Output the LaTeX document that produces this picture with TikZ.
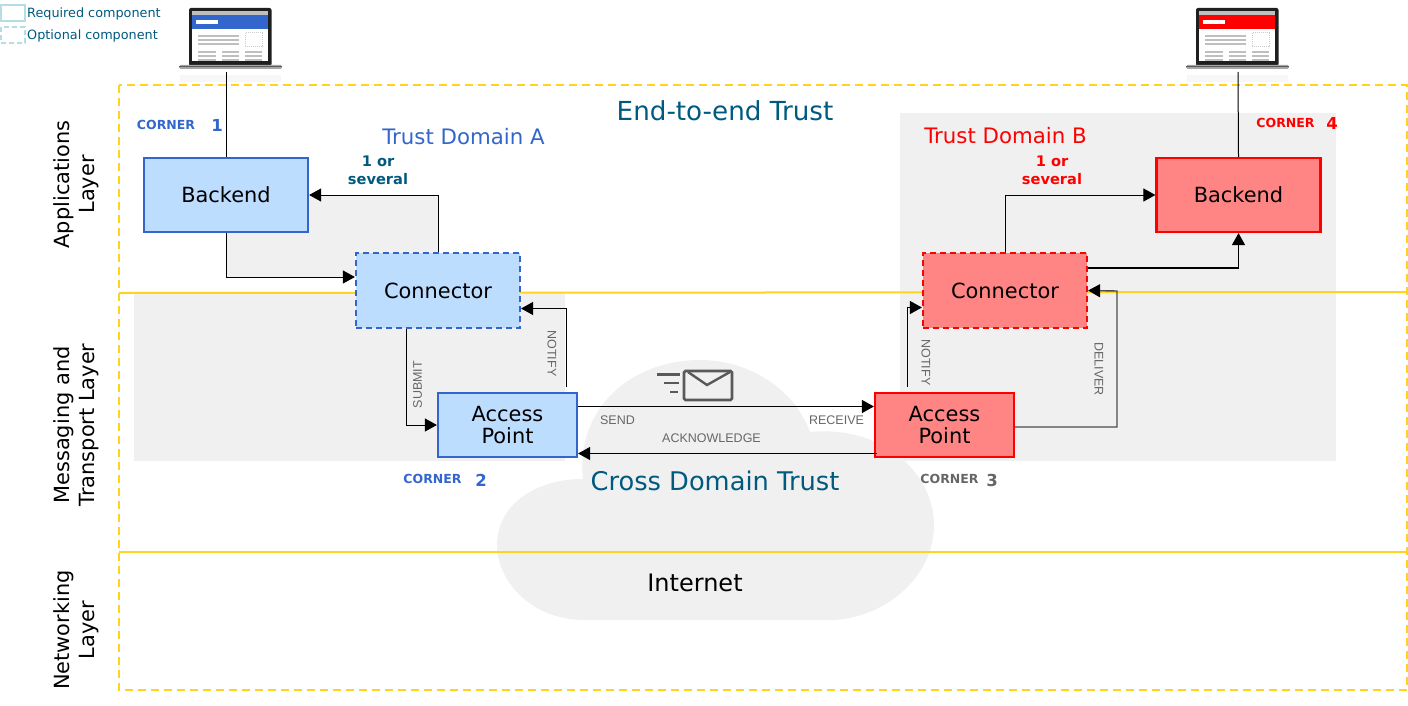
\documentclass[tikz,border=0pt]{standalone}
\usepackage{fontspec}
\setmainfont{DejaVu Sans}
\newfontfamily\labfont{Liberation Sans}
\usetikzlibrary{arrows.meta,calc}
\definecolor{blueline}{HTML}{3366CC}
\definecolor{bluefill}{HTML}{BDDDFF}
\definecolor{redline}{HTML}{FF0000}
\definecolor{redfill}{HTML}{FF8585}
\definecolor{goldline}{HTML}{FFD320}
\definecolor{tealtext}{HTML}{005A80}
\definecolor{softgray}{HTML}{F0F0F0}
\definecolor{legendline}{HTML}{B5DDE3}
\definecolor{midgray}{HTML}{666666}
\definecolor{envgray}{HTML}{595959}
\newcommand{\fsz}[1]{\fontsize{#1}{#1}\selectfont}
\newcommand{\laptopicon}[1]{%
  \fill[black!3] (180,75) rectangle (281,82);
  \fill[black!88,rounded corners=2pt] (189,8) rectangle (271.5,66);
  \fill[black!35,rounded corners=1.5pt] (179,65) rectangle (282,69);
  \fill[black!65] (179,66.5) rectangle (282,67.5);
  \fill[white] (192,11) rectangle (268,61);
  \fill[black!25] (192,11) rectangle (268,15);
  \fill[#1] (192,15) rectangle (268,29);
  \fill[white] (196,20) rectangle (218,24);
  \foreach \yy in {36,40,44} \draw[black!25,line width=1.6pt] (198,\yy) -- (239,\yy);
  \foreach \yy in {52,56,60} {
    \draw[black!25,line width=1.6pt] (198,\yy) -- (216,\yy);
    \draw[black!25,line width=1.6pt] (222,\yy) -- (239,\yy);
    \draw[black!25,line width=1.6pt] (245,\yy) -- (262,\yy);
  }
  \draw[black!20,line width=1pt,densely dotted] (245,33) rectangle (262,47);
}
\tikzset{
  x=1pt,y=-1pt,
  bluebox/.style={draw=blueline,fill=bluefill,line width=2.2pt,inner sep=0pt,align=center,font=\fsz{20.9}},
  redbox/.style={draw=redline,fill=redfill,line width=2.2pt,inner sep=0pt,align=center,font=\fsz{20.9}},
  optbox/.style={dash pattern=on 6pt off 4pt},
  wideb/.style={minimum width=164pt,minimum height=74pt},
  apsize/.style={minimum width=139pt,minimum height=64pt},
  flowline/.style={draw=black,line width=1pt,-{Triangle[length=12pt,width=13pt,color=black]}},
  plainline/.style={draw=black,line width=1pt},
  goldframe/.style={draw=goldline,line width=2pt},
  flowlab/.style={font=\labfont\fsz{12.5},text=midgray,inner sep=0pt},
  titlelab/.style={text=tealtext,inner sep=0pt},
  domainlab/.style={font=\fsz{21.3},inner sep=0pt},
  layerlab/.style={font=\fsz{20.9},rotate=90,align=center,inner sep=0pt},
  cornerlab/.style={font=\bfseries\fsz{12.5},inner sep=0pt},
  cornernum/.style={font=\bfseries\fsz{16.5},inner sep=0pt},
  severallab/.style={font=\bfseries\fsz{14.6},align=center,inner sep=0pt},
  legendlab/.style={font=\fsz{12.8},text=tealtext,anchor=west,inner sep=0pt},
}
\begin{document}
\begin{tikzpicture}
\useasboundingbox (0,0) rectangle (1408,706);
% grey regions
\fill[softgray] (134,293) rectangle (565,461);
\fill[softgray] (308,195) -- (438,195) -- (438,253) -- (355,253) -- (355,277) -- (226,277) -- (226,232) -- (308,232) -- cycle;
\fill[softgray] (900,113) rectangle (1336,461);
% cloud
\fill[softgray] (585,620) .. controls (530,620) and (497,580) .. (497,545)
  .. controls (497,505) and (535,479) .. (583,479)
  .. controls (575,410) and (630,360) .. (700,360)
  .. controls (750,360) and (795,390) .. (810,432)
  .. controls (885,425) and (934,475) .. (934,525)
  .. controls (934,580) and (880,620) .. (830,620) -- cycle;
% layer frames
\draw[goldframe,dash pattern=on 8pt off 5pt] (119,85) rectangle (1407,690);
\draw[goldframe] (119,293) -- (1407,292);
\draw[goldframe] (119,552) -- (1407,552);
% legend
\draw[legendline,line width=2pt] (1,5) rectangle (25,21);
\draw[legendline,line width=2pt,dash pattern=on 5pt off 3pt] (1,27) rectangle (25,43);
\node[legendlab] (legreq) at (27,14) {Required component};
\node[legendlab] (legopt) at (27,36) {Optional component};
% laptops
\laptopicon{blueline}
\begin{scope}[shift={(1007,0)}]
\laptopicon{redline}
\end{scope}
\coordinate (lapA) at (226,72);
\coordinate (lapB) at (1238,72);
% boxes
\node[bluebox,wideb] (backA) at (226,195) {Backend};
\node[bluebox,wideb,optbox,minimum height=75pt] (connA) at (438,290.5) {Connector};
\node[bluebox,apsize] (apA) at (507.5,425) {Access\\[2pt]Point};
\node[redbox,wideb,optbox,minimum height=75pt] (connB) at (1005,290.5) {Connector};
\node[redbox,apsize] (apB) at (944.5,425) {Access\\[2pt]Point};
\node[redbox,wideb] (backB) at (1238.5,195) {Backend};
\coordinate (delivC) at (1117,291);
% connectors
\draw[plainline] (lapA) -- (backA.north);
\draw[plainline] (lapB) -- (backB.north);
\path[flowline] (backA.south) |- ([yshift=13.5pt]connA.west);
\path[flowline] (connA.north) |- (backA.east);
\path[flowline] ([xshift=-32pt]connA.south) |- (apA.west);
\path[flowline] ([xshift=59pt,yshift=5pt]apA.north) |- ([yshift=-18pt]connA.east);
\path[flowline] ([yshift=18.5pt]apA.east) -- ([yshift=18.5pt]apB.west);
\path[flowline] ([xshift=3pt,yshift=-28.5pt]apB.west) -- ([yshift=-28.5pt]apA.east);
\path[flowline] ([xshift=-37pt,yshift=5pt]apB.north) |- ([yshift=-17pt]connB.west);
\path[flowline,draw=black!70,line width=1.4pt] ([yshift=-2pt]apB.east) -- ([yshift=-2pt]delivC |- apB.east) -- (delivC) -- (connB.east);
\path[flowline] (connB.north) |- (backB.west);
\path[flowline,line width=1.2pt] ([yshift=22.5pt]connB.east) -| (backB.south);
% envelope
\draw[envgray,line width=2.6pt,rounded corners=1.5pt] (684,371) rectangle (732,400);
\draw[envgray,line width=2.4pt] (688,372) -- (707,385) -- (730,372);
\draw[envgray,line width=2.4pt] (657,374.5) -- (680,374.5);
\draw[envgray,line width=2.4pt] (664,383) -- (679,383);
\draw[envgray,line width=2.4pt] (670,392) -- (678,392);
% flow labels
\node[flowlab] (lsend) at (617.5,420.5) {SEND};
\node[flowlab] (lrecv) at (836.5,420.5) {RECEIVE};
\node[flowlab] (lack) at (711.5,438.5) {ACKNOWLEDGE};
\node[flowlab,rotate=90] (lsub) at (417.5,384.5) {SUBMIT};
\node[flowlab,rotate=-90] (lnotA) at (552,353.5) {NOTIFY};
\node[flowlab,rotate=-90] (lnotB) at (926,362.5) {NOTIFY};
\node[flowlab,rotate=-90] (ldel) at (1099,369) {DELIVER};
% titles
\node[titlelab,font=\fsz{26.2}] (tend) at (725,110.5) {End-to-end Trust};
\node[titlelab,font=\fsz{25.7}] (tcross) at (715,480.5) {Cross Domain Trust};
\node[font=\fsz{24},inner sep=0pt] (tnet) at (695,582.5) {Internet};
\node[domainlab,text=blueline] (tda) at (463.5,136.5) {Trust Domain A};
\node[domainlab,text=redline] (tdb) at (1005.5,135.5) {Trust Domain B};
\node[severallab,text=tealtext] (sevA) at (378,170) {1 or\\[3pt]several};
\node[severallab,text=redline] (sevB) at (1052,170) {1 or\\[3pt]several};
% layers
\node[layerlab] (layApp) at (76,184.5) {Applications\\[4pt]Layer};
\node[layerlab] (layMsg) at (76,425) {Messaging and\\[4pt]Transport Layer};
\node[layerlab] (layNet) at (76,630) {Networking\\[4pt]Layer};
% corners
\node[cornerlab,text=blueline] (c1) at (166,124.5) {CORNER};
\node[cornernum,text=blueline] (n1) at (217,125.5) {1};
\node[cornerlab,text=blueline] (c2) at (432.5,478.5) {CORNER};
\node[cornernum,text=blueline] (n2) at (481,480) {2};
\node[cornerlab,text=midgray] (c3) at (949.5,478.5) {CORNER};
\node[cornernum,text=midgray] (n3) at (992,480) {3};
\node[cornerlab,text=redline] (c4) at (1285.5,122.5) {CORNER};
\node[cornernum,text=redline] (n4) at (1332,123) {4};
\end{tikzpicture}
\end{document}
